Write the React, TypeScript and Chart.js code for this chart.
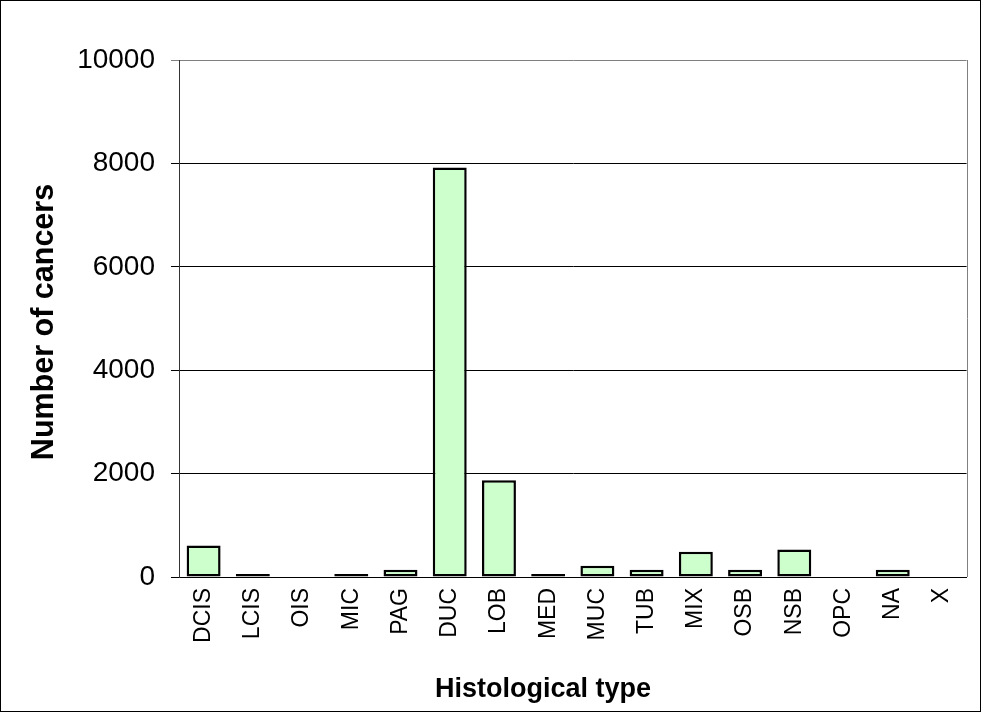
import React, { useEffect, useRef } from "react";
import { Chart, registerables } from "chart.js";

Chart.register(...registerables);

const categories = ["DCIS", "LCIS", "OIS", "MIC", "PAG", "DUC", "LOB", "MED", "MUC", "TUB", "MIX", "OSB", "NSB", "OPC", "NA", "X"];
const cancerCounts = [610, 60, 0, 60, 140, 7920, 1870, 60, 220, 140, 490, 140, 530, 0, 140, 0];
const yTicks = [0, 2000, 4000, 6000, 8000, 10000];
const yTitle = "Number of cancers";
const xTitle = "Histological type";

const FONT = "'Liberation Sans', Arial, Helvetica, sans-serif";

const decorPlugin = {
  id: "decor",
  afterDraw(chart: any) {
    const { ctx, chartArea } = chart;
    ctx.save();
    ctx.strokeStyle = "#808080";
    ctx.lineWidth = 1;
    ctx.beginPath();
    ctx.moveTo(Math.round(chartArea.right) + 0.5, chartArea.top);
    ctx.lineTo(Math.round(chartArea.right) + 0.5, chartArea.bottom);
    ctx.stroke();
    ctx.strokeStyle = "#000";
    ctx.strokeRect(0.5, 0.5, 980, 711);
    ctx.fillStyle = "#000";
    ctx.font = `bold 27px ${FONT}`;
    ctx.textAlign = "center";
    ctx.textBaseline = "alphabetic";
    ctx.fillText(xTitle, 543, 697);
    ctx.translate(53, 322);
    ctx.rotate(-Math.PI / 2);
    ctx.font = `bold 30.5px ${FONT}`;
    ctx.fillText(yTitle, 0, 0);
    ctx.restore();
  },
};

export default function App() {
  const ref = useRef<HTMLCanvasElement | null>(null);
  useEffect(() => {
    if (!ref.current) return;
    const chart = new Chart(ref.current, {
      type: "bar",
      data: {
        labels: categories,
        datasets: [
          {
            data: cancerCounts,
            backgroundColor: "#ccffcc",
            borderColor: "#000",
            borderWidth: 2.5,
            borderSkipped: false,
            barPercentage: 0.69,
            categoryPercentage: 1,
          },
        ],
      },
      options: {
        responsive: false,
        animation: false,
        devicePixelRatio: 1,
        layout: { padding: { top: 60, right: 14, bottom: 0, left: 0 } },
        plugins: { legend: { display: false }, tooltip: { enabled: false } },
        scales: {
          x: {
            grid: { display: false, drawTicks: false },
            border: { display: true, color: "#000", width: 1 },
            ticks: {
              color: "#000",
              font: { family: FONT, size: 23 },
              maxRotation: 90,
              minRotation: 90,
              padding: 11,
              autoSkip: false,
            },
            afterFit(scale: any) {
              scale.height = 135;
            },
          },
          y: {
            min: 0,
            max: 10000,
            afterBuildTicks(scale: any) {
              scale.ticks = yTicks.map((v) => ({ value: v }));
            },
            grid: {
              color: (c: any) => (c.tick && c.tick.value === 10000 ? "#808080" : "#000"),
              tickLength: 8,
              lineWidth: 1,
            },
            border: { display: true, color: "#333", width: 1 },
            ticks: {
              color: "#000",
              font: { family: FONT, size: 28 },
              padding: 16,
              callback: (v: any) => String(v),
            },
            afterFit(scale: any) {
              scale.width = 179;
            },
          },
        },
      },
      plugins: [decorPlugin],
    });
    return () => chart.destroy();
  }, []);
  return (
    <div style={{ position: "fixed", left: 0, top: 0, width: 981, height: 712, background: "#fff" }}>
      <canvas ref={ref} width={981} height={712} style={{ display: "block" }} />
    </div>
  );
}
